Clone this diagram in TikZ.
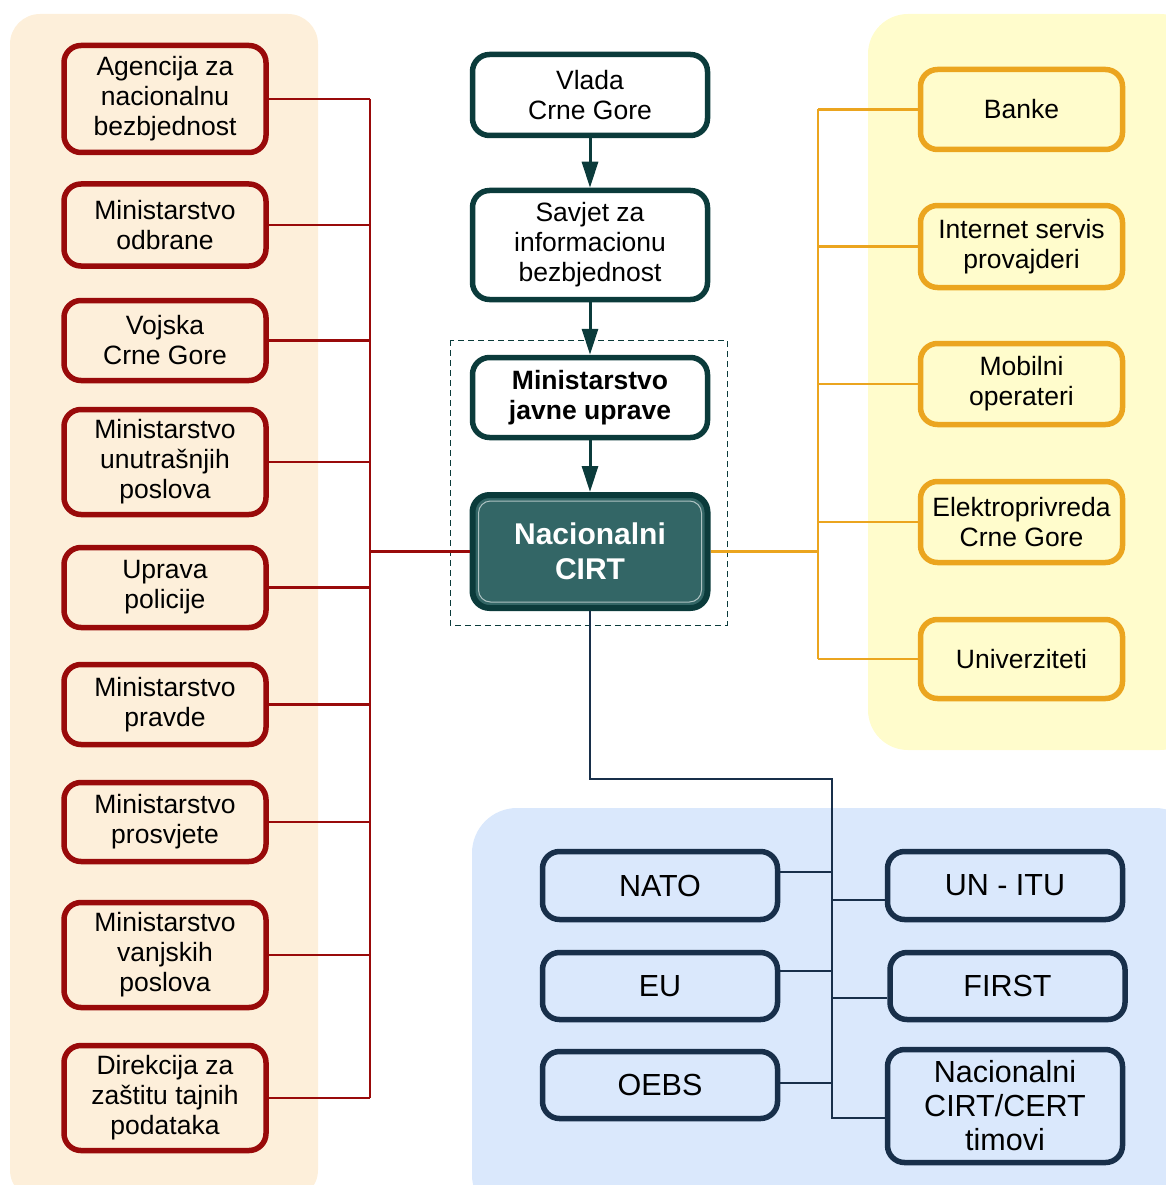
\documentclass[tikz,border=0pt]{standalone}
\usepackage{fontspec}
\setmainfont{Liberation Sans}
\usetikzlibrary{arrows.meta}
\definecolor{peach}{HTML}{FDEFDA}
\definecolor{dred}{HTML}{990A0A}
\definecolor{yel}{HTML}{FFFCCC}
\definecolor{orng}{HTML}{EBA51F}
\definecolor{lblue}{HTML}{DAE8FC}
\definecolor{navy}{HTML}{182F4A}
\definecolor{dteal}{HTML}{0B3B3B}
\definecolor{cteal}{HTML}{336666}
\tikzset{
  box/.style={rectangle, rounded corners=17pt, line width=5.5pt, align=center,
    font=\fontsize{26.5}{30}\selectfont, inner sep=2pt},
  lbox/.style={box, draw=dred, fill=peach, minimum width=202pt},
  rbox/.style={box, draw=orng, fill=yel, minimum width=202pt},
  cbox/.style={box, draw=dteal, fill=white, minimum width=235pt},
  bbox/.style={box, draw=navy, fill=lblue, minimum width=235pt, font=\fontsize{30.5}{34}\selectfont},
  redline/.style={draw=dred, line width=2.5pt},
  orline/.style={draw=orng, line width=2.5pt},
  navline/.style={draw=navy, line width=2.5pt},
  arr/.style={draw=dteal, line width=3pt, -{Triangle[width=16pt,length=26pt]}},
}
\begin{document}
\begin{tikzpicture}[x=1pt,y=-1pt]
\useasboundingbox (0,0) rectangle (1166,1185);
% backgrounds
\fill[peach, rounded corners=30pt] (10,14) rectangle (318,1200);
\fill[yel, rounded corners=40pt] (868,14) rectangle (1200,750);
\fill[lblue, rounded corners=45pt] (472,808) rectangle (1200,1220);

% left column
\node[lbox, minimum height=107pt] (a1) at (165,99) {Agencija za\\nacionalnu\\bezbjednost};
\node[lbox, minimum height=82pt] (a2) at (165,225) {Ministarstvo\\odbrane};
\node[lbox, minimum height=80pt] (a3) at (165,340.5) {Vojska\\Crne Gore};
\node[lbox, minimum height=105pt] (a4) at (165,462) {Ministarstvo\\unutrašnjih\\poslova};
\node[lbox, minimum height=80pt] (a5) at (165,587.5) {Uprava\\policije};
\node[lbox, minimum height=80pt] (a6) at (165,704.5) {Ministarstvo\\pravde};
\node[lbox, minimum height=79pt] (a7) at (165,822) {Ministarstvo\\prosvjete};
\node[lbox, minimum height=105pt] (a8) at (165,955) {Ministarstvo\\vanjskih\\poslova};
\node[lbox, minimum height=105pt] (a9) at (165,1098) {Direkcija za\\zaštitu tajnih\\podataka};

% center column
\node[cbox, minimum height=81pt] (vl) at (590,95) {Vlada\\Crne Gore};
\node[cbox, minimum height=109pt] (sv) at (590,245) {Savjet za\\informacionu\\bezbjednost};
\node[cbox, minimum height=80pt, font=\bfseries\fontsize{26.5}{30}\selectfont] (mj) at (590,397.5) {Ministarstvo\\javne uprave};
\node[box, draw=dteal, fill=cteal, line width=6pt, minimum width=235pt, minimum height=113pt,
  text=white, font=\bfseries\fontsize{30}{35}\selectfont] (ci) at (590,551.5) {Nacionalni\\CIRT};
\draw[white!60!cteal, line width=1pt, rounded corners=12pt]
  ([shift={(9,9)}]ci.north west) rectangle ([shift={(-9,-9)}]ci.south east);
\draw[dteal, line width=1pt, dash pattern=on 6pt off 4pt] (450,340) rectangle (727,625);

\draw[arr] (vl.south) -- (sv.north);
\draw[arr] (sv.south) -- (mj.north);
\draw[arr] (mj.south) -- (ci.north);

% right column
\node[rbox, minimum height=80pt] (b1) at (1021.5,109.5) {Banke};
\node[rbox, minimum height=82pt] (b2) at (1021.5,246.5) {Internet servis\\provajderi};
\node[rbox, minimum height=81pt] (b3) at (1021.5,384) {Mobilni\\operateri};
\node[rbox, minimum height=81pt] (b4) at (1021.5,522) {Elektroprivreda\\Crne Gore};
\node[rbox, minimum height=79pt] (b5) at (1021.5,659) {Univerziteti};

% bottom
\node[bbox, minimum height=68pt] (n1) at (660,885.5) {NATO};
\node[bbox, minimum height=67pt] (n2) at (660,986) {EU};
\node[bbox, minimum height=67pt] (n3) at (660,1085) {OEBS};
\node[bbox, minimum height=68pt] (u1) at (1005,885.5) {UN - ITU};
\node[bbox, minimum height=67pt] (u2) at (1007.5,986) {FIRST};
\node[bbox, minimum height=113pt] (u3) at (1005,1106) {Nacionalni\\CIRT/CERT\\timovi};

% left connectors
\coordinate (lx) at (370,0);
\foreach \n in {a1,a2,a3,a4,a5,a6,a7,a8,a9}{
  \draw[redline] (\n.east) -- (\n.east -| lx);
}
\draw[redline] (a1.east -| lx) -- (a9.east -| lx);
\draw[redline] (ci.west) -- (ci.west -| lx);

% right connectors
\coordinate (rx) at (818,0);
\foreach \n in {b1,b2,b3,b4,b5}{
  \draw[orline] (\n.west) -- (\n.west -| rx);
}
\draw[orline] (b1.west -| rx) -- (b5.west -| rx);
\draw[orline] (ci.east) -- (ci.east -| rx);

% bottom connectors
\coordinate (tk) at (832,779);
\draw[navline] (ci.south) |- (tk) -- ([yshift=-12pt]u3.west -| tk) -- ([yshift=-12pt]u3.west);
\draw[navline] ([yshift=13.5pt]n1.east) -- ([yshift=13.5pt]n1.east -| tk);
\draw[navline] ([yshift=15pt]n2.east) -- ([yshift=15pt]n2.east -| tk);
\draw[navline] ([yshift=2pt]n3.east) -- ([yshift=2pt]n3.east -| tk);
\draw[navline] ([yshift=-14.5pt]u1.west) -- ([yshift=-14.5pt]u1.west -| tk);
\draw[navline] ([yshift=-12pt]u2.west) -- ([yshift=-12pt]u2.west -| tk);
\end{tikzpicture}
\end{document}
